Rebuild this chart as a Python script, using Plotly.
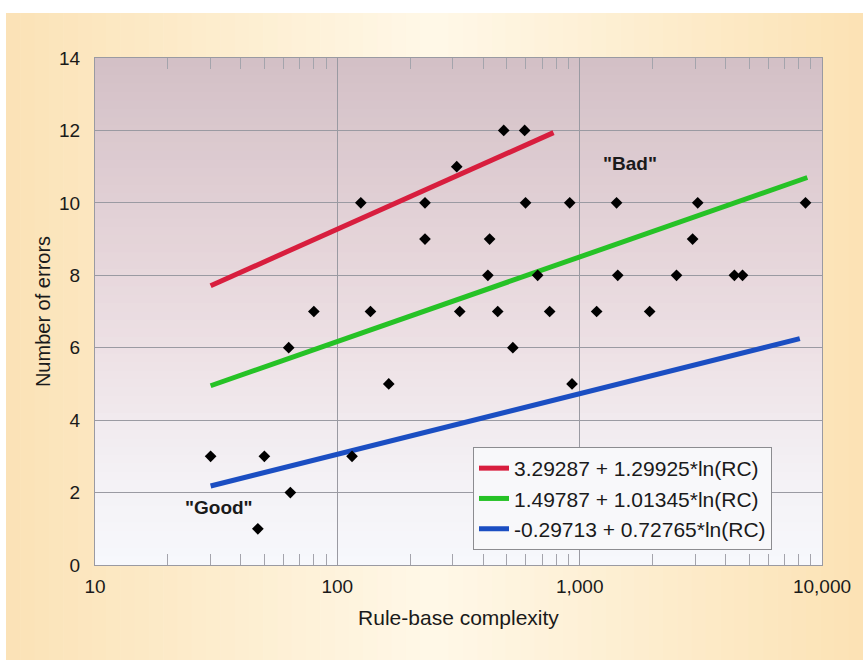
import plotly.graph_objects as go

# ---- data ----
rc_points = [30, 50, 47, 64, 63, 80, 115, 125, 137, 163, 230, 230, 311, 320,
             486, 593, 598, 910, 1420, 3070, 8550, 425, 2925, 418, 671, 1436,
             2510, 4350, 4700, 459, 752, 1175, 1945, 530, 930]
errors = [3, 3, 1, 2, 6, 7, 3, 10, 7, 5, 9, 10, 11, 7,
          12, 12, 10, 10, 10, 10, 10, 9, 9, 8, 8, 8,
          8, 8, 8, 7, 7, 7, 7, 6, 5]

fit_names = ["3.29287 + 1.29925*ln(RC)",
             "1.49787 + 1.01345*ln(RC)",
             "-0.29713 + 0.72765*ln(RC)"]
fit_x = [[30, 780], [30, 8700], [30, 8100]]
fit_y = [[7.71, 11.94], [4.95, 10.70], [2.18, 6.25]]
fit_colors = ["#D81E3E", "#26C226", "#1B4EC2"]

x_tickvals = [10, 100, 1000, 10000]
x_ticktext = ["10", "100", "1,000", "10,000"]
x_minor = [m * d for d in (10, 100, 1000) for m in range(2, 10)]
y_tickvals = [0, 2, 4, 6, 8, 10, 12, 14]

FONT = "Liberation Sans, Arial, Helvetica, sans-serif"

fig = go.Figure()

for name, xs, ys, c in zip(fit_names, fit_x, fit_y, fit_colors):
    fig.add_trace(go.Scatter(x=xs, y=ys, mode="lines", name=name,
                             line=dict(color=c, width=5)))

fig.add_trace(go.Scatter(x=rc_points, y=errors, mode="markers", showlegend=False,
                         marker=dict(symbol="diamond", size=9, color="black")))

# ---- backgrounds (gradients made of strips) ----
W, H = 863, 660
L, R, T, B = 95, 822, 58, 565
pw, ph = R - L, B - T


def px2paper_x(p):
    return (p - L) / pw


def px2paper_y(p):
    return (B - p) / ph


def lerp(c1, c2, t):
    return tuple(int(round(a + (b - a) * t)) for a, b in zip(c1, c2))


def interp_stops(stops, t):
    for i in range(len(stops) - 1):
        t0, c0 = stops[i]
        t1, c1 = stops[i + 1]
        if t0 <= t <= t1:
            return lerp(c0, c1, (t - t0) / (t1 - t0) if t1 > t0 else 0)
    return stops[-1][1]


shapes = []
# outer beige frame with lighter centre
outer_stops = [(0.0, (251, 226, 182)), (0.25, (253, 237, 206)), (0.5, (255, 248, 232)),
               (0.75, (253, 237, 206)), (1.0, (252, 226, 180))]
n_out = 60
x_start, x_end = 6, W
for i in range(n_out):
    a = x_start + (x_end - x_start) * i / n_out
    b = x_start + (x_end - x_start) * (i + 1) / n_out + 0.6
    col = interp_stops(outer_stops, (i + 0.5) / n_out)
    shapes.append(dict(type="rect", xref="paper", yref="paper", layer="below",
                       x0=px2paper_x(a), x1=px2paper_x(b),
                       y0=px2paper_y(H), y1=px2paper_y(13),
                       fillcolor="rgb(%d,%d,%d)" % col, line=dict(width=0)))

# plot-area vertical gradient
inner_stops = [(0.0, (211, 192, 198)), (0.35, (228, 211, 216)), (0.6, (238, 226, 230)),
               (0.8, (243, 240, 244)), (1.0, (247, 248, 252))]
n_in = 60
for i in range(n_in):
    y0 = i / n_in
    y1 = (i + 1) / n_in + 0.002
    col = interp_stops(inner_stops, 1 - (i + 0.5) / n_in)
    shapes.append(dict(type="rect", xref="paper", yref="paper", layer="below",
                       x0=0, x1=1, y0=y0, y1=min(y1, 1),
                       fillcolor="rgb(%d,%d,%d)" % col, line=dict(width=0)))

fig.update_layout(
    width=W, height=H,
    margin=dict(l=L, r=W - R, t=T, b=H - B, autoexpand=False),
    paper_bgcolor="white",
    plot_bgcolor="rgba(0,0,0,0)",
    shapes=shapes,
    font=dict(family=FONT, size=19, color="#1a1a1a"),
    showlegend=True,
    legend=dict(x=px2paper_x(473), y=px2paper_y(447), xanchor="left", yanchor="top",
                bgcolor="#F8F8FA", bordercolor="#8C8C90", borderwidth=1,
                font=dict(family=FONT, size=21, color="#1a1a1a"),
                tracegroupgap=0),
    annotations=[
        dict(x=3.206, y=11.1, xref="x", yref="y", text='"Bad"', showarrow=False,
             font=dict(family=FONT, size=19, color="#1a1a1a", weight="bold")),
        dict(x=1.511, y=1.6, xref="x", yref="y", text='"Good"', showarrow=False,
             font=dict(family=FONT, size=19, color="#1a1a1a", weight="bold")),
    ],
)

fig.update_xaxes(
    type="log", range=[1, 4],
    tickmode="array", tickvals=x_tickvals, ticktext=x_ticktext,
    ticks="inside", ticklen=11, tickcolor="#9A9AA2",
    showgrid=True, gridcolor="#9A9AA2", gridwidth=1,
    showline=True, linecolor="#9A9AA2", linewidth=1, mirror="ticks",
    minor=dict(tickvals=x_minor, ticks="inside", ticklen=11, tickcolor="#A4A4AC",
               showgrid=False),
    tickfont=dict(size=19),
    ticklabelstandoff=4,
    title=dict(text="Rule-base complexity", font=dict(size=21), standoff=14),
    zeroline=False,
)
fig.update_yaxes(
    range=[0, 14], tickmode="array", tickvals=y_tickvals,
    ticks="", showgrid=True, gridcolor="#9A9AA2", gridwidth=1,
    showline=True, linecolor="#9A9AA2", linewidth=1, mirror=True,
    tickfont=dict(size=19),
    ticklabelstandoff=10,
    title=dict(text="Number of errors", font=dict(size=20), standoff=3),
    zeroline=False,
)

fig.write_html("out.html", post_script="document.body.style.margin='0';",
               config={"displayModeBar": False})
